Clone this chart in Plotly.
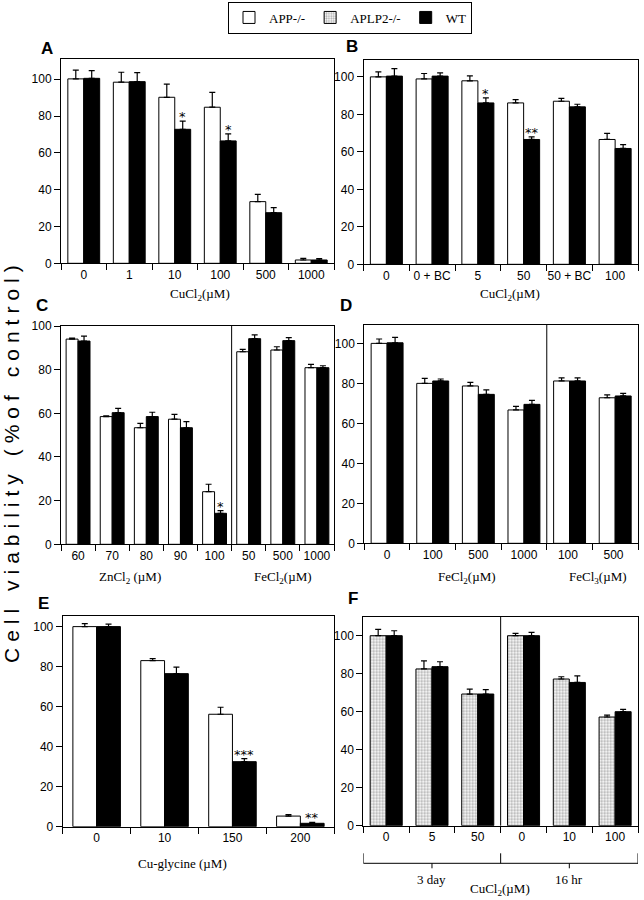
import plotly.graph_objects as go

# ---------------- data ----------------
A_labels = ["0", "1", "10", "100", "500", "1000"]
A_app = [100.2, 98.4, 90.2, 84.8, 33.5, 1.8]
A_app_err = [4.8, 5.4, 7.1, 8.1, 4.0, 0.9]
A_wt = [100.5, 98.7, 72.8, 66.5, 27.5, 1.8]
A_wt_err = [4.2, 4.9, 4.4, 3.8, 2.8, 0.7]
A_sig = ["", "", "*", "*", "", ""]

B_labels = ["0", "0 + BC", "5", "50", "50 + BC", "100"]
B_app = [100.0, 98.9, 97.9, 86.1, 87.0, 66.6]
B_app_err = [2.7, 2.9, 2.6, 1.8, 1.5, 3.2]
B_wt = [100.4, 100.4, 86.1, 66.6, 84.0, 61.8]
B_wt_err = [4.0, 1.7, 2.7, 1.4, 1.4, 2.1]
B_sig = ["", "", "*", "**", "", ""]

C_labels = ["60", "70", "80", "90", "100", "50", "500", "1000"]
C_app = [94.0, 58.5, 53.4, 57.3, 24.1, 88.2, 89.0, 80.9]
C_app_err = [0.4, 0.3, 2.0, 2.2, 3.4, 1.1, 1.5, 1.5]
C_wt = [93.1, 60.3, 58.5, 53.4, 14.2, 94.2, 93.3, 80.9]
C_wt_err = [2.3, 2.0, 2.0, 2.8, 1.2, 1.7, 1.4, 0.9]
C_sig = ["", "", "", "", "*", "", "", ""]
C_group_sizes = [5, 3]

D_labels = ["0", "100", "500", "1000", "100", "500"]
D_app = [100.0, 80.0, 78.7, 66.7, 81.2, 72.8]
D_app_err = [2.2, 2.5, 1.8, 1.8, 1.6, 1.4]
D_wt = [100.3, 81.2, 74.5, 69.5, 81.2, 73.7]
D_wt_err = [2.7, 1.0, 2.2, 2.0, 1.6, 1.3]
D_sig = ["", "", "", "", "", ""]
D_group_sizes = [4, 2]

E_labels = ["0", "10", "150", "200"]
E_app = [100.0, 83.0, 56.2, 5.3]
E_app_err = [1.5, 1.0, 3.5, 0.7]
E_wt = [100.0, 76.5, 32.5, 1.7]
E_wt_err = [1.2, 3.2, 1.5, 0.5]
E_sig = ["", "", "***", "**"]

F_labels = ["0", "5", "50", "0", "10", "100"]
F_aplp2 = [100.0, 82.5, 69.3, 100.0, 77.2, 57.2]
F_aplp2_err = [3.3, 4.3, 2.6, 1.2, 1.2, 1.0]
F_wt = [100.0, 83.7, 69.3, 100.0, 75.4, 60.0]
F_wt_err = [2.6, 2.6, 2.3, 1.8, 3.5, 1.2]
F_sig = ["", "", "", "", "", ""]
F_group_sizes = [3, 3]
F_group_names = ["3 day", "16 hr"]

Y_TICKS = [0, 20, 40, 60, 80, 100]

# ---------------- layout helpers ----------------
W, H = 644, 900
BARGAP = 0.3
SANS = "Liberation Sans, Arial, sans-serif"
SERIF = "Liberation Serif, Times New Roman, serif"


def px(x):
    return x / W


def py(y):
    return 1 - y / H


def uniq(labels):
    seen, out = {}, []
    for l in labels:
        k = seen.get(l, 0)
        out.append(l + " " * k)
        seen[l] = k + 1
    return out


fig = go.Figure()
annotations = []
shapes = []
layout_axes = {}

panels = [
    dict(key="A", labels=A_labels, s1=A_app, e1=A_app_err, s2=A_wt, e2=A_wt_err, sig=A_sig,
         first="APP-/-", xd=(61, 334), yd=(59, 263.3), ymax=111, groups=None, letter=(46.7, 48.5)),
    dict(key="B", labels=B_labels, s1=B_app, e1=B_app_err, s2=B_wt, e2=B_wt_err, sig=B_sig,
         first="APP-/-", xd=(363.5, 638), yd=(60, 264.3), ymax=109, groups=None, letter=(351.7, 47)),
    dict(key="C", labels=C_labels, s1=C_app, e1=C_app_err, s2=C_wt, e2=C_wt_err, sig=C_sig,
         first="APP-/-", xd=(61, 334), yd=(326, 544.3), ymax=100, groups=C_group_sizes, letter=(42, 305)),
    dict(key="D", labels=D_labels, s1=D_app, e1=D_app_err, s2=D_wt, e2=D_wt_err, sig=D_sig,
         first="APP-/-", xd=(364.3, 638), yd=(325, 543.3), ymax=109.2, groups=D_group_sizes, letter=(346, 305)),
    dict(key="E", labels=E_labels, s1=E_app, e1=E_app_err, s2=E_wt, e2=E_wt_err, sig=E_sig,
         first="APP-/-", xd=(62.7, 334.3), yd=(616, 826.7), ymax=105.3, groups=None, letter=(43.3, 603)),
    dict(key="F", labels=F_labels, s1=F_aplp2, e1=F_aplp2_err, s2=F_wt, e2=F_wt_err, sig=F_sig,
         first="APLP2-/-", xd=(363.3, 638), yd=(616.7, 825.7), ymax=110, groups=F_group_sizes, letter=(353, 598)),
]

legend_done = set()
off = (1 - BARGAP) / 4

for i, p in enumerate(panels, start=1):
    xa = "x" if i == 1 else f"x{i}"
    ya = "y" if i == 1 else f"y{i}"
    cats = uniq(p["labels"])
    n = len(cats)

    if p["first"] == "APP-/-":
        marker1 = dict(color="white", line=dict(color="black", width=1))
    else:
        marker1 = dict(color="white", line=dict(color="black", width=1),
                       pattern=dict(shape=".", fgcolor="#555", bgcolor="white", size=3, solidity=0.45))
    show1 = p["first"] not in legend_done
    legend_done.add(p["first"])
    fig.add_trace(go.Bar(
        x=cats, y=p["s1"], name=p["first"], marker=marker1,
        error_y=dict(type="data", array=p["e1"], arrayminus=[0] * n, symmetric=False,
                     color="black", thickness=1.2, width=3),
        xaxis=xa, yaxis=ya, showlegend=show1,
        legendrank=1 if p["first"] == "APP-/-" else 2,
    ))
    show2 = "WT" not in legend_done
    legend_done.add("WT")
    fig.add_trace(go.Bar(
        x=cats, y=p["s2"], name="WT", marker=dict(color="black", line=dict(color="black", width=1)),
        error_y=dict(type="data", array=p["e2"], arrayminus=[0] * n, symmetric=False,
                     color="black", thickness=1.2, width=3),
        xaxis=xa, yaxis=ya, showlegend=show2, legendrank=3,
    ))

    axkey = "xaxis" if i == 1 else f"xaxis{i}"
    aykey = "yaxis" if i == 1 else f"yaxis{i}"
    layout_axes[axkey] = dict(
        domain=[px(p["xd"][0]), px(p["xd"][1])], anchor=ya, type="category",
        categoryorder="array", categoryarray=cats, range=[-0.5, n - 0.5],
        tickson="boundaries", ticks="outside", ticklen=6, tickcolor="black", tickwidth=1,
        tickangle=0, automargin=False,
        showline=True, linecolor="black", linewidth=1, mirror=True, showgrid=False,
        tickfont=dict(family=SANS, size=12, color="black"), fixedrange=True,
    )
    layout_axes[aykey] = dict(
        domain=[py(p["yd"][1]), py(p["yd"][0])], anchor=xa, range=[0, p["ymax"]],
        tickmode="array", tickvals=Y_TICKS, ticks="outside", ticklen=6, tickcolor="black",
        automargin=False,
        showline=True, linecolor="black", linewidth=1, mirror=True, showgrid=False,
        zeroline=False, tickfont=dict(family=SANS, size=12, color="black"), fixedrange=True,
    )

    for j, s in enumerate(p["sig"]):
        if s:
            annotations.append(dict(
                x=j + off, y=p["s2"][j] + p["e2"][j], xref=xa, yref=ya, text=s,
                showarrow=False, yanchor="bottom", yshift=-5,
                font=dict(family="DejaVu Sans, sans-serif", size=13, color="#000000"),
            ))

    if p["groups"]:
        pos = -0.5
        for g in p["groups"][:-1]:
            pos += g
            shapes.append(dict(type="line", xref=xa, yref=f"{ya} domain", x0=pos, x1=pos,
                               y0=0, y1=1, line=dict(color="black", width=1)))

    annotations.append(dict(
        x=px(p["letter"][0]), y=py(p["letter"][1]), xref="paper", yref="paper",
        text=f"<b>{p['key']}</b>", showarrow=False, xanchor="center", yanchor="middle",
        font=dict(family=SANS, size=17, color="black"),
    ))


def title(text, x, y):
    annotations.append(dict(x=px(x), y=py(y), xref="paper", yref="paper", text=text,
                            showarrow=False, xanchor="center", yanchor="middle",
                            font=dict(family=SERIF, size=13, color="black")))


title("CuCl<sub>2</sub>(µM)", 200, 295)
title("CuCl<sub>2</sub>(µM)", 510, 295)
title("ZnCl<sub>2</sub> (µM)", 130, 577)
title("FeCl<sub>2</sub>(µM)", 283, 577)
title("FeCl<sub>2</sub>(µM)", 467, 577)
title("FeCl<sub>3</sub>(µM)", 598, 577)
title("Cu-glycine (µM)", 182, 863)
title("CuCl<sub>2</sub>(µM)", 500, 889)

# bracket under panel F
nF = len(F_labels)
b_top, b_bot, b_tick = 853.3, 863.3, 868.3
shapes.append(dict(type="line", xref="x6", yref="paper", x0=-0.5, x1=nF - 0.5,
                   y0=py(b_bot), y1=py(b_bot), line=dict(color="black", width=1)))
pos = -0.5
edges = [pos]
for g in F_group_sizes:
    pos += g
    edges.append(pos)
for e in edges:
    shapes.append(dict(type="line", xref="x6", yref="paper", x0=e, x1=e,
                       y0=py(b_bot), y1=py(b_top), line=dict(color="black", width=1)))
start = 0
for g, name in zip(F_group_sizes, F_group_names):
    c = start + (g - 1) / 2
    shapes.append(dict(type="line", xref="x6", yref="paper", x0=c, x1=c,
                       y0=py(b_bot), y1=py(b_tick), line=dict(color="black", width=1)))
    annotations.append(dict(x=c, y=py(879), xref="x6", yref="paper", text=name,
                            showarrow=False, xanchor="center", yanchor="middle",
                            font=dict(family=SERIF, size=13, color="black")))
    start += g

annotations.append(dict(
    x=px(11), y=py(461), xref="paper", yref="paper",
    text='<span style="letter-spacing:6px">Cell viability (%of control)</span>',
    showarrow=False, textangle=-90, xanchor="center", yanchor="middle",
    font=dict(family=SANS, size=21, color="black"),
))

fig.update_layout(
    width=W, height=H, margin=dict(l=0, r=0, t=0, b=0, autoexpand=False),
    paper_bgcolor="white", plot_bgcolor="white",
    barmode="group", bargap=BARGAP, bargroupgap=0,
    showlegend=True,
    legend=dict(orientation="h", x=px(350), xanchor="center", y=py(1.5), yanchor="top",
                bordercolor="black", borderwidth=1, bgcolor="white",
                font=dict(family=SERIF, size=13, color="black"),
                itemwidth=30, traceorder="normal"),
    annotations=annotations, shapes=shapes,
    **layout_axes,
)

fig.write_html(
    "out.html",
    config={"displayModeBar": False},
    post_script="document.body.style.margin='0';document.body.style.overflow='hidden';",
)
